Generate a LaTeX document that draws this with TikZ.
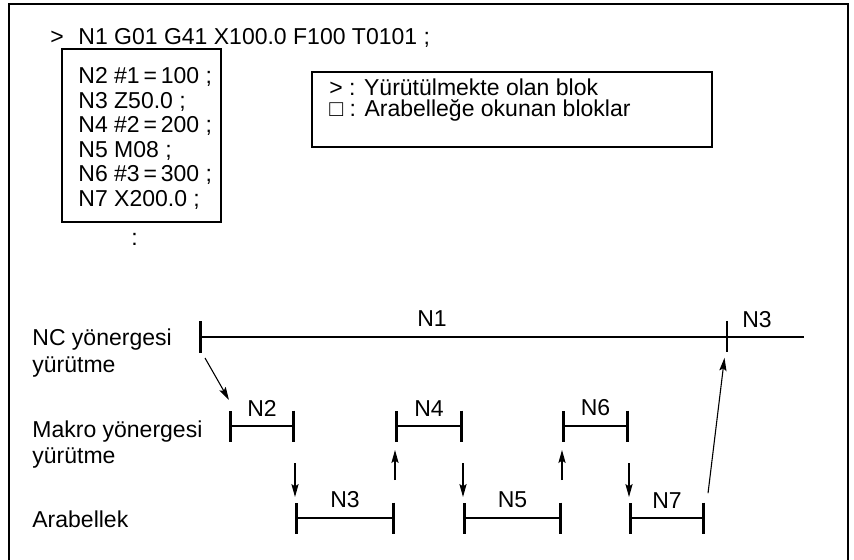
\documentclass[tikz,border=0pt]{standalone}
\usepackage{fontspec}
\setmainfont{Liberation Sans}
\usetikzlibrary{arrows.meta, positioning}
\tikzset{
  frameline/.style = {line width=1.2pt, black},
  boxline/.style   = {line width=0.6pt, black},
  txt/.style       = {font=\fontsize{11.5}{14}\selectfont, inner sep=0pt, anchor=base west},
  lbl/.style       = {font=\fontsize{11.5}{14}\selectfont, inner sep=0pt},
  timeline/.style  = {line width=1pt},
  tickline/.style  = {line width=1.3pt},
  seg/.style       = {line width=1pt, {Bar[width=15.5pt, line width=1.3pt]}-{Bar[width=15.5pt, line width=1.3pt]}},
  flow/.style      = {-{Stealth[length=6.5pt, width=3.6pt, inset=1.2pt]}, line width=0.55pt},
}

\begin{document}
\begin{tikzpicture}[x=0.5pt,y=-0.5pt]
  \useasboundingbox (0,0) rectangle (854,560);
  % outer frame, open at the bottom
  \draw[frameline] (9,560) -- (9,4) -- (848,4) -- (848,560);

  % program
  \node[txt] (curmark) at (50,45) {>};
  \node[txt] (blkN1) at (78,45) {N1 G01 G41 X100.0 F100 T0101 ;};
  \draw[boxline] (62,49) rectangle (221,222);
  \node[txt] (blkN2) at (78,84) {N2 \#1\,=\,100 ;};
  \node[txt] (blkN3) at (78,108.5) {N3 Z50.0 ;};
  \node[txt] (blkN4) at (78,133) {N4 \#2\,=\,200 ;};
  \node[txt] (blkN5) at (78,157.5) {N5 M08 ;};
  \node[txt] (blkN6) at (78,182) {N6 \#3\,=\,300 ;};
  \node[txt] (blkN7) at (78,206.5) {N7 X200.0 ;};
  \node[txt] (blkmore) at (131,246) {:};

  % legend
  \draw[boxline] (312,72) rectangle (712,147);
  \node[txt] (legrun) at (329,96) {> : Yürütülmekte olan blok};
  \node[txt] (legbuf) at (329,117) {□ : Arabelleğe okunan bloklar};

  % row names
  \node[txt] (rowNCa) at (32,345) {NC yönergesi};
  \node[txt] (rowNCb) at (32,372) {yürütme};
  \node[txt] (rowMKa) at (32,437) {Makro yönergesi};
  \node[txt] (rowMKb) at (32,463) {yürütme};
  \node[txt] (rowBF) at (32,527) {Arabellek};

  % NC row
  \coordinate (ncS) at (199,337);
  \coordinate (ncT) at (727,337);
  \coordinate (ncE) at (804,337);
  \draw[timeline, {Bar[width=15.5pt, line width=1.3pt]}-] (ncS) -- (ncE);
  \draw[tickline] (ncT) ++(0,-16) -- ++(0,31);
  \node[lbl, anchor=base] (lblN1) at (432,327) {N1};
  \node[lbl, anchor=base] (lblN3top) at (757,328) {N3};

  % macro row
  \draw[seg] (229,426) coordinate (m2s) -- node[lbl, above=4.5pt] (lblN2) {N2} (295,426) coordinate (m2e);
  \draw[seg] (395,426) coordinate (m4s) -- node[lbl, above=4.5pt] (lblN4) {N4} (463,426) coordinate (m4e);
  \draw[seg] (562,426) coordinate (m6s) -- node[lbl, above=4.5pt] (lblN6) {N6} (629,426) coordinate (m6e);

  % buffer row
  \draw[seg] (295,518) coordinate (b3s) -- node[lbl, above=4.5pt] (lblN3) {N3} (395,518) coordinate (b3e);
  \draw[seg] (463,518) coordinate (b5s) -- node[lbl, above=4.5pt] (lblN5) {N5} (562,518) coordinate (b5e);
  \draw[seg] (629,518) coordinate (b7s) -- node[lbl, above=4.5pt] (lblN7) {N7} (705,518) coordinate (b7e);

  % hand-overs
  \coordinate (goA) at (205,358);
  \coordinate (goB) at (229,400);
  \draw[flow] (goA) -- (goB);
  \draw[flow, shorten <=18.5pt, shorten >=10.5pt] (m2e) -- (b3s);
  \draw[flow, shorten <=19pt, shorten >=12pt] (b3e) -- (m4s);
  \draw[flow, shorten <=18.5pt, shorten >=10.5pt] (m4e) -- (b5s);
  \draw[flow, shorten <=19pt, shorten >=12pt] (b5e) -- (m6s);
  \draw[flow, shorten <=18.5pt, shorten >=10.5pt] (m6e) -- (b7s);
  \draw[flow, shorten <=12.5pt, shorten >=10.5pt] (b7e) -- (ncT);
\end{tikzpicture}
\end{document}
